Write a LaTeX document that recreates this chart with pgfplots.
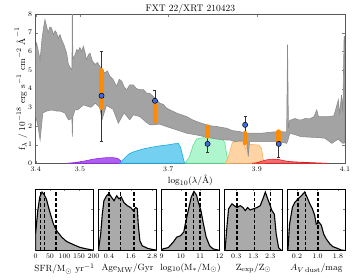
\documentclass[border=0pt]{standalone}
\usepackage{pgfplots}
\pgfplotsset{compat=1.18}
\definecolor{bandfill}{RGB}{163,163,163}
\definecolor{bandedge}{RGB}{140,140,140}
\definecolor{purpf}{RGB}{175,95,240}
\definecolor{purpe}{RGB}{145,35,230}
\definecolor{cyanf}{RGB}{115,208,240}
\definecolor{cyane}{RGB}{20,170,230}
\definecolor{greenf}{RGB}{175,245,205}
\definecolor{greene}{RGB}{90,225,150}
\definecolor{peachf}{RGB}{255,212,165}
\definecolor{peache}{RGB}{250,175,95}
\definecolor{redf}{RGB}{245,110,110}
\definecolor{rede}{RGB}{230,25,30}
\definecolor{obar}{RGB}{255,140,0}
\definecolor{bpt}{RGB}{65,105,225}
\definecolor{histgray}{RGB}{170,170,170}
\pgfplotsset{
  tlab/.style={tick label style={font=\fontsize{7}{8}\selectfont}},
  hist/.style={anchor=south west, scale only axis, width=58pt, height=61.7pt,
    ymin=0, ymax=1, ytick={0.33,0.67}, yticklabels={}, tlab,
    tick align=inside, major tick length=2pt, xtick pos=both, ytick pos=both,
    xticklabel pos=bottom,
    label style={font=\fontsize{9.5}{11}\selectfont},
    xlabel style={yshift=2pt},
    axis line style={line width=0.7pt}},
  hfill/.style={fill=histgray, draw=black, line width=1.1pt},
  dl/.style={black, line width=1.2pt, dash pattern=on 3.5pt off 2pt},
}
\begin{document}
\begin{tikzpicture}[x=1pt,y=1pt]
\path[use as bounding box] (0,0) rectangle (360,280);
\begin{axis}[at={(35.7pt,116.7pt)}, anchor=south west, scale only axis,
  width=309.3pt, height=149.3pt,
  xmin=3.4, xmax=4.1, ymin=0, ymax=8,
  xtick={3.4,3.5,3.7,3.9,4.1}, ytick={0,1,...,8},
  xticklabels={3.4,3.5,3.7,3.9,4.1},
  tlab, tick align=inside, major tick length=2.5pt,
  xtick pos=both, ytick pos=both, xticklabel pos=bottom, yticklabel pos=left,
  axis line style={line width=0.8pt, black!65},
  title={FXT 22/XRT 210423},
  title style={font=\fontsize{9.5}{11}\selectfont, yshift=-9pt},
  xlabel={$\log_{10}(\lambda/\mbox{\AA})$},
  ylabel={$\mathrm{f_\lambda\ /\ 10^{-18}\ erg\ s^{-1}\ cm^{-2}\ \mbox{\AA}^{-1}}$},
  label style={font=\fontsize{9.5}{11}\selectfont},
  xlabel style={yshift=4pt},
  ylabel style={yshift=-6pt},
  clip=true]
% filter curves
\addplot[fill=purpf, draw=purpe, line width=0.6pt] coordinates {
(3.470,0)(3.490,0.04)(3.510,0.12)(3.530,0.22)(3.545,0.27)(3.560,0.30)(3.575,0.30)(3.585,0.27)(3.590,0.18)(3.595,0.08)(3.600,0.02)(3.605,0)} \closedcycle;
\addplot[fill=cyanf, draw=cyane, line width=0.6pt] coordinates {
(3.590,0)(3.600,0.25)(3.610,0.48)(3.620,0.60)(3.640,0.75)(3.660,0.85)(3.680,0.93)(3.700,0.99)(3.715,1.05)(3.723,1.06)(3.728,0.85)(3.733,0.35)(3.737,0)} \closedcycle;
\addplot[fill=greenf, draw=greene, line width=0.6pt] coordinates {
(3.738,0)(3.748,0.35)(3.756,0.95)(3.764,1.30)(3.775,1.36)(3.790,1.38)(3.810,1.38)(3.822,1.36)(3.828,1.10)(3.832,0.50)(3.836,0.05)(3.838,0)} \closedcycle;
\addplot[fill=peachf, draw=peache, line width=0.6pt] coordinates {
(3.830,0)(3.838,0.50)(3.845,1.10)(3.852,1.22)(3.862,1.18)(3.870,1.12)(3.875,0.75)(3.879,1.05)(3.890,1.00)(3.905,0.98)(3.911,0.80)(3.915,0.20)(3.919,0)} \closedcycle;
\addplot[fill=redf, draw=rede, line width=0.6pt] coordinates {
(3.890,0)(3.900,0.03)(3.910,0.10)(3.920,0.17)(3.930,0.21)(3.940,0.22)(3.950,0.20)(3.960,0.15)(3.970,0.10)(3.990,0.07)(4.010,0.05)(4.030,0.03)(4.050,0.01)(4.060,0)} \closedcycle;
% spectrum band
\addplot[fill=bandfill, draw=bandedge, line width=0.6pt] coordinates {
(3.400,6.2)(3.402,6.45)(3.406,6.0)(3.410,5.55)(3.414,6.6)(3.418,7.3)(3.421,7.7)(3.425,7.3)(3.428,7.0)(3.432,7.3)(3.436,7.25)(3.440,6.9)(3.444,7.1)(3.447,7.0)(3.451,6.7)(3.455,6.9)(3.459,6.6)(3.463,6.4)(3.466,6.2)(3.470,5.9)(3.474,5.3)(3.479,5.1)(3.482,5.0)(3.483,8.5)(3.484,5.6)(3.489,5.8)(3.493,6.1)(3.496,6.0)(3.500,6.2)(3.504,6.0)(3.508,6.27)(3.512,5.9)(3.515,5.55)(3.519,5.8)(3.523,5.9)(3.528,5.5)(3.534,5.3)(3.540,5.4)(3.545,5.2)(3.550,5.0)(3.557,4.84)(3.562,4.95)(3.568,4.66)(3.575,4.5)(3.583,4.12)(3.589,4.5)(3.595,4.39)(3.600,4.1)(3.606,3.94)(3.613,4.2)(3.621,4.2)(3.628,4.0)(3.636,3.94)(3.644,3.95)(3.651,3.76)(3.658,3.75)(3.666,3.58)(3.673,3.4)(3.681,3.22)(3.689,3.15)(3.696,2.96)(3.705,2.85)(3.719,2.69)(3.730,2.6)(3.742,2.5)(3.753,2.35)(3.764,2.24)(3.775,2.15)(3.787,2.06)(3.798,2.0)(3.810,1.97)(3.821,1.92)(3.832,1.88)(3.845,1.75)(3.862,1.7)(3.874,1.61)(3.890,1.62)(3.911,1.61)(3.930,1.66)(3.949,1.7)(3.968,1.68)(3.970,6.36)(3.972,1.9)(3.975,2.3)(3.987,2.4)(3.995,2.33)(4.002,2.33)(4.010,2.4)(4.020,2.38)(4.030,2.5)(4.036,2.86)(4.040,2.5)(4.050,2.5)(4.065,2.5)(4.075,2.55)(4.085,3.4)(4.088,2.6)(4.092,3.66)(4.095,2.7)(4.098,6.8)(4.100,6.8)
(4.100,1.1)(4.095,1.07)(4.085,1.3)(4.070,1.07)(4.055,1.34)(4.040,1.38)(4.020,1.4)(4.000,1.43)(3.985,1.55)(3.975,1.61)(3.971,1.25)(3.968,1.07)(3.950,1.16)(3.930,1.16)(3.911,1.16)(3.895,1.16)(3.884,1.16)(3.881,0.36)(3.878,1.16)(3.862,1.2)(3.851,1.16)(3.840,1.25)(3.830,1.25)(3.810,1.3)(3.787,1.4)(3.764,1.52)(3.742,1.61)(3.719,1.79)(3.696,1.97)(3.680,2.1)(3.666,2.06)(3.659,2.06)(3.650,2.2)(3.636,2.5)(3.621,2.6)(3.613,2.33)(3.600,2.7)(3.587,2.15)(3.575,2.9)(3.560,3.1)(3.550,2.33)(3.545,3.0)(3.535,3.22)(3.525,3.0)(3.508,3.13)(3.495,2.86)(3.489,2.86)(3.484,2.5)(3.483,1.43)(3.482,2.4)(3.474,2.33)(3.466,2.7)(3.455,2.8)(3.447,2.8)(3.436,2.86)(3.425,2.8)(3.416,2.7)(3.410,1.25)(3.405,2.0)(3.402,2.33)(3.400,2.5)} -- cycle;
% error bars
\addplot[only marks, mark=none, draw=black!80,
  error bars/.cd, y dir=both, y explicit,
  error bar style={line width=0.6pt, black!80}, error mark options={rotate=90, mark size=1.5pt, line width=0.6pt}]
coordinates {
(3.549,3.62) += (0,2.38) -= (0,2.42)
(3.670,3.35) += (0,0.55) -= (0,0.57)
(3.789,1.04) += (0,0.43) -= (0,0.47)
(3.874,2.06) += (0,0.48) -= (0,0.49)
(3.950,1.04) += (0,0.75) -= (0,0.72)};
% model photometry ranges
\addplot[obar, line width=4.5pt, line cap=round] coordinates {(3.549,2.98)(3.549,4.98)};
\addplot[obar, line width=4.5pt, line cap=round] coordinates {(3.670,2.26)(3.670,3.12)};
\addplot[obar, line width=4.5pt, line cap=round] coordinates {(3.789,1.44)(3.789,1.96)};
\addplot[obar, line width=4.5pt, line cap=round] coordinates {(3.874,1.08)(3.874,1.62)};
\addplot[obar, line width=4.5pt, line cap=round] coordinates {(3.950,1.08)(3.950,1.70)};
% photometry points
\addplot[only marks, mark=*, mark size=2.6pt, mark options={fill=bpt, draw=black, line width=0.5pt}] coordinates {
(3.549,3.62)(3.670,3.35)(3.789,1.04)(3.874,2.06)(3.950,1.04)};
\end{axis}

% ---------- posterior panels ----------
\begin{axis}[hist, at={(35.5pt,29.3pt)}, xmin=0, xmax=200, xtick={0,50,100,150,200},
  xlabel={$\mathrm{SFR/M_\odot\ yr^{-1}}$}]
\addplot[hfill] coordinates {(0,0)(0,0.25)(3.4,0.43)(7.9,0.65)(14.7,0.87)(22.6,0.95)(28.2,0.92)(37.3,0.84)(45.2,0.70)(53.1,0.57)(62,0.43)(73.4,0.32)(90.4,0.22)(107,0.15)(130,0.10)(152.5,0.055)(175,0.03)(197.6,0.01)(200,0.01)(200,0)} -- cycle;
\addplot[dl] coordinates {(17,0)(17,1)};
\addplot[dl] coordinates {(30.5,0)(30.5,1)};
\addplot[dl] coordinates {(71,0)(71,1)};
\end{axis}

\begin{axis}[hist, at={(98.5pt,29.3pt)}, xmin=-0.18, xmax=3.03, xtick={0.4,1.6,2.8},
  xticklabels={0.4,1.6,2.8},
  xlabel={$\mathrm{Age_{MW}/Gyr}$}]
\addplot[hfill] coordinates {(-0.18,0)(-0.15,0.08)(-0.06,0.27)(0.03,0.59)(0.12,0.81)(0.27,0.89)(0.4,0.93)(0.53,0.87)(0.68,0.81)(0.83,0.89)(0.95,0.84)(1.08,0.87)(1.23,0.78)(1.41,0.73)(1.6,0.70)(1.74,0.65)(1.88,0.70)(1.97,0.68)(2.02,0.43)(2.11,0.16)(2.24,0.08)(2.52,0.04)(2.8,0.02)(3.03,0.01)(3.03,0)} -- cycle;
\addplot[dl] coordinates {(0.4,0)(0.4,1)};
\addplot[dl] coordinates {(1.05,0)(1.05,1)};
\addplot[dl] coordinates {(1.78,0)(1.78,1)};
\end{axis}

\begin{axis}[hist, at={(161.5pt,29.3pt)}, xmin=9, xmax=12, xtick={9,10,11,12},
  xlabel={$\mathrm{log_{10}(M_*/M_\odot)}$}]
\addplot[hfill] coordinates {(9,0)(9.08,0.03)(9.35,0.05)(9.61,0.14)(9.79,0.22)(9.97,0.24)(10.15,0.30)(10.27,0.49)(10.42,0.70)(10.54,0.87)(10.68,0.96)(10.81,0.90)(10.91,0.78)(11.04,0.65)(11.17,0.43)(11.31,0.22)(11.49,0.08)(11.66,0.03)(11.93,0.01)(12,0)} -- cycle;
\addplot[dl] coordinates {(10.27,0)(10.27,1)};
\addplot[dl] coordinates {(10.65,0)(10.65,1)};
\addplot[dl] coordinates {(10.99,0)(10.99,1)};
\end{axis}

\begin{axis}[hist, at={(224.5pt,29.3pt)}, xmin=-0.39, xmax=3.02, xtick={0.3,1.3,2.3},
  xticklabels={0.3,1.3,2.3},
  xlabel={$\mathrm{Z_{exp}/Z_\odot}$}]
\addplot[hfill] coordinates {(-0.39,0)(-0.35,0.03)(-0.25,0.38)(-0.15,0.68)(0.05,0.76)(0.18,0.73)(0.34,0.70)(0.54,0.73)(0.69,0.70)(0.83,0.65)(0.97,0.70)(1.12,0.66)(1.32,0.68)(1.52,0.70)(1.71,0.73)(1.87,0.84)(2.01,0.95)(2.15,0.84)(2.26,0.76)(2.4,0.65)(2.54,0.59)(2.65,0.27)(2.79,0.05)(2.93,0.01)(3.02,0)} -- cycle;
\addplot[dl] coordinates {(0.34,0)(0.34,1)};
\addplot[dl] coordinates {(1.36,0)(1.36,1)};
\addplot[dl] coordinates {(2.3,0)(2.3,1)};
\end{axis}

\begin{axis}[hist, at={(287.5pt,29.3pt)}, xmin=-0.17, xmax=2.09, xtick={0.2,1.0,1.8},
  xticklabels={0.2,1.0,1.8},
  xlabel={$A_{V\,\mathrm{dust}}/\mathrm{mag}$}]
\addplot[hfill] coordinates {(-0.17,0)(-0.15,0.03)(-0.09,0.43)(0.02,0.70)(0.11,0.78)(0.24,0.84)(0.37,0.89)(0.5,0.95)(0.59,0.87)(0.7,0.76)(0.8,0.68)(0.89,0.57)(0.95,0.43)(1.06,0.46)(1.15,0.41)(1.24,0.27)(1.34,0.19)(1.48,0.11)(1.6,0.065)(1.73,0.045)(1.93,0.01)(2.05,0.005)(2.09,0)} -- cycle;
\addplot[dl] coordinates {(0.24,0)(0.24,1)};
\addplot[dl] coordinates {(0.54,0)(0.54,1)};
\addplot[dl] coordinates {(1.02,0)(1.02,1)};
\end{axis}
\end{tikzpicture}
\end{document}
